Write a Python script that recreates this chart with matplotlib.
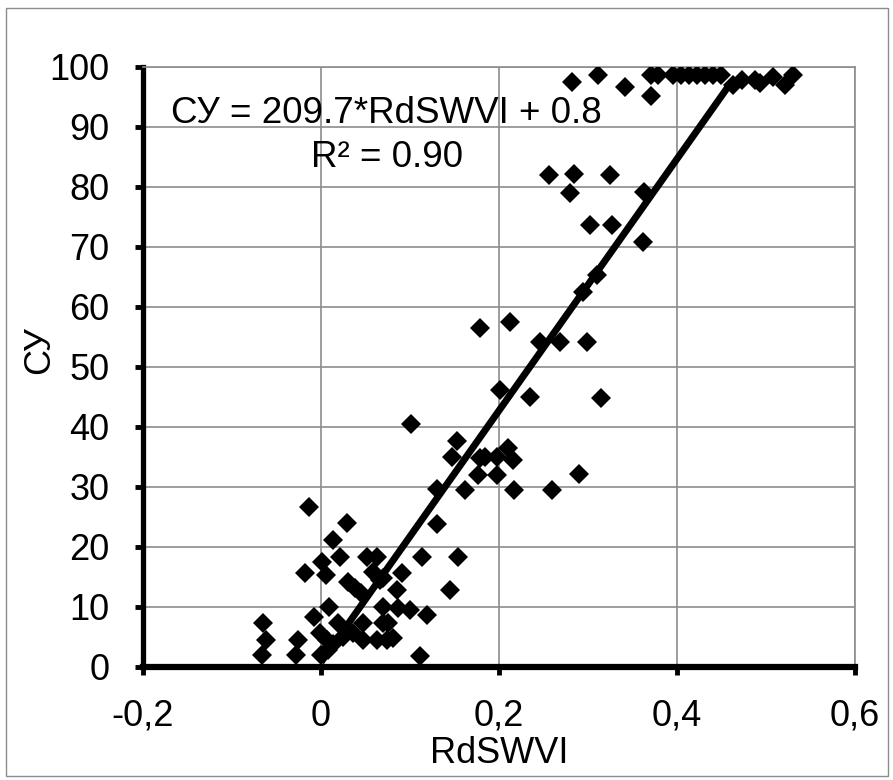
import matplotlib
matplotlib.use("Agg")
import matplotlib.pyplot as plt
from matplotlib.patches import Rectangle
import numpy as np

# RdSWVI vs СУ
rdswvi = [
    -0.066, -0.062, -0.065, -0.028, -0.026, -0.018, -0.013, -0.008, -0.001, 0.000,
    0.001, 0.006, 0.009, 0.013, 0.021, 0.019, 0.029, 0.007, 0.013, 0.008,
    0.025, 0.036, 0.047, 0.047, 0.052, 0.063, 0.058, 0.070, 0.030, 0.038,
    0.045, 0.070, 0.063, 0.074, 0.070, 0.081, 0.066, 0.085, 0.091, 0.087,
    0.100, 0.119, 0.075, 0.111, 0.113, 0.101, 0.130, 0.130, 0.145, 0.147,
    0.153, 0.154, 0.162, 0.176, 0.179, 0.184, 0.198, 0.198, 0.210, 0.216,
    0.217, 0.179, 0.212, 0.201, 0.235, 0.246, 0.269, 0.299, 0.315, 0.290,
    0.260, 0.294, 0.310, 0.302, 0.327, 0.362, 0.256, 0.284, 0.280, 0.325,
    0.363, 0.282, 0.311, 0.342, 0.371, 0.371, 0.379, 0.396, 0.404, 0.413,
    0.422, 0.431, 0.440, 0.449, 0.463, 0.473, 0.488, 0.493, 0.508, 0.521,
    0.530,
]
su = [
    2.0, 4.5, 7.3, 2.0, 4.5, 15.7, 26.7, 8.3, 5.7, 2.0,
    17.5, 15.3, 10.0, 21.2, 18.3, 7.3, 24.0, 4.5, 3.8, 2.8,
    5.0, 5.7, 7.3, 4.5, 18.3, 18.3, 15.8, 14.8, 14.2, 13.2,
    12.3, 10.0, 4.5, 4.5, 7.3, 4.8, 14.5, 12.8, 15.7, 9.8,
    9.5, 8.7, 7.3, 1.8, 18.3, 40.5, 29.7, 23.8, 12.8, 35.0,
    37.7, 18.3, 29.5, 32.0, 34.8, 35.0, 35.0, 32.0, 36.5, 34.5,
    29.5, 56.5, 57.5, 46.2, 45.0, 54.2, 54.2, 54.2, 44.8, 32.2,
    29.5, 62.5, 65.3, 73.7, 73.7, 70.8, 82.0, 82.2, 79.0, 82.0,
    79.2, 97.5, 98.7, 96.7, 95.2, 98.7, 98.7, 98.7, 98.7, 98.7,
    98.7, 98.7, 98.7, 98.7, 97.0, 97.8, 97.8, 97.3, 98.3, 97.0,
    98.7,
]

slope = 209.7
intercept = 0.8
fit_range = [0.0, 0.46]

x_ticks = [-0.2, 0.0, 0.2, 0.4, 0.6]
x_tick_labels = ["-0,2", "0", "0,2", "0,4", "0,6"]
y_ticks = list(range(0, 101, 10))

plt.rcParams["font.family"] = ["Liberation Sans", "DejaVu Sans"]

fig = plt.figure(figsize=(8.93, 7.80), dpi=100)
ax = fig.add_axes([143 / 893, 113 / 780, 712 / 893, 600 / 780])

ax.plot(rdswvi, su, linestyle="none", marker="D", markersize=10.5,
        color="black", markeredgewidth=0, zorder=3)

fx = np.array(fit_range)
ax.plot(fx, slope * fx + intercept, color="black", linewidth=5,
        solid_capstyle="butt", zorder=4)

ax.set_xlim(-0.2, 0.6)
ax.set_ylim(0, 100)
ax.set_xticks(x_ticks)
ax.set_xticklabels(x_tick_labels)
ax.set_yticks(y_ticks)

ax.grid(True, color="#8c8c8c", linewidth=1.2)
ax.set_axisbelow(True)

for side in ["top", "right"]:
    ax.spines[side].set_color("#8c8c8c")
    ax.spines[side].set_linewidth(1.2)
ax.spines["left"].set_linewidth(3.8)
ax.spines["bottom"].set_linewidth(4.5)

ax.tick_params(axis="both", direction="out", length=6, width=3.5,
               labelsize=26, colors="black")
ax.tick_params(axis="x", pad=17)
ax.tick_params(axis="y", pad=18)

ax.set_xlabel("RdSWVI", fontsize=26)
ax.xaxis.set_label_coords(0.5, -0.115)
ax.set_ylabel("СУ", fontsize=26)
ax.yaxis.set_label_coords(-0.12, 0.528)

ax.text(0.0736, 90.7, "СУ = 209.7*RdSWVI + 0.8", fontsize=26.5,
        ha="center", va="baseline", zorder=5)
ax.text(0.0736, 83.3, "R² = 0.90", fontsize=26.5,
        ha="center", va="baseline", zorder=5)

fig.patches.append(Rectangle((6 / 893, 4 / 780), 882 / 893, 768 / 780,
                             transform=fig.transFigure, fill=False,
                             edgecolor="#8c8c8c", linewidth=1))

fig.savefig("out.png", dpi=100)
